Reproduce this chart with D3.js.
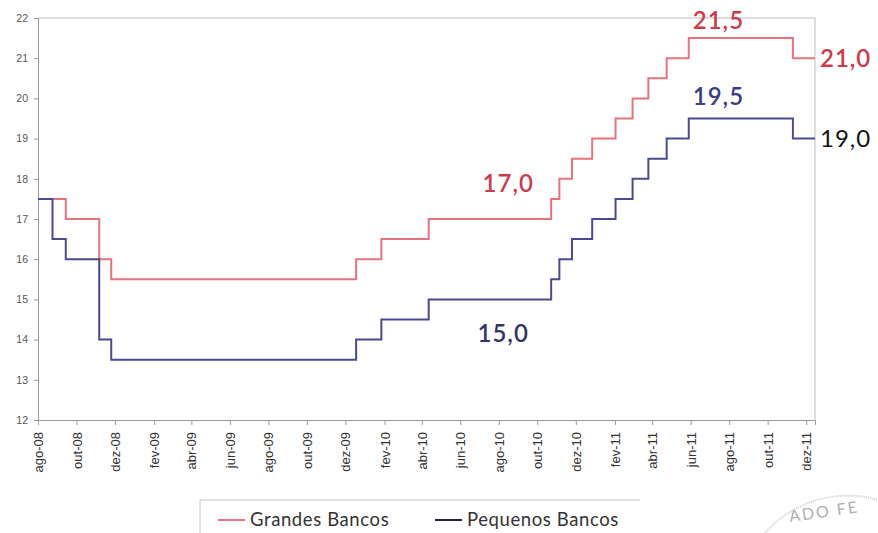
<!DOCTYPE html>
<html>
<head>
<meta charset="utf-8">
<script src="https://cdn.jsdelivr.net/npm/d3@7"></script>
<style>
  body { margin: 0; background: #fff; }
  svg { display: block; font-family: Lato, "Open Sans", "Liberation Sans", sans-serif; }
</style>
</head>
<body>
<svg id="chart" width="878" height="533"></svg>
<script>
// ---- Data ----
const changeDates = ["2008-08-01","2008-08-24","2008-09-14","2008-11-06","2008-11-25","2009-12-18","2010-01-27","2010-04-12",
  "2010-10-23","2010-11-05","2010-11-25","2010-12-27","2011-02-02","2011-03-01","2011-03-26","2011-04-24","2011-05-29","2011-11-10","2011-12-15"];
const grandesBancos  = [17.5,17.5,17.0,16.0,15.5,16.0,16.5,17.0,17.5,18.0,18.5,19.0,19.5,20.0,20.5,21.0,21.5,21.0,21.0];
const pequenosBancos = [17.5,16.5,16.0,14.0,13.5,14.0,14.5,15.0,15.5,16.0,16.5,17.0,17.5,18.0,18.5,19.0,19.5,19.0,19.0];
const monthNames = ["jan","fev","mar","abr","mai","jun","jul","ago","set","out","nov","dez"];
const tickDates = ["2008-08-01","2008-10-01","2008-12-01","2009-02-01","2009-04-01","2009-06-01","2009-08-01","2009-10-01",
  "2009-12-01","2010-02-01","2010-04-01","2010-06-01","2010-08-01","2010-10-01","2010-12-01","2011-02-01","2011-04-01",
  "2011-06-01","2011-08-01","2011-10-01","2011-12-01"];
const yTicks = [12,13,14,15,16,17,18,19,20,21,22];
const annotations = [
  {text:"17,0", date:"2010-08-16", value:17.0, dy:-35, color:"#cf3a4c"},
  {text:"21,5", date:"2011-07-15", value:21.5, dy:-18, color:"#cf3a4c"},
  {text:"21,0", date:"2011-12-15", value:21.0, dy:0,   color:"#cf3a4c", right:true},
  {text:"19,5", date:"2011-07-15", value:19.5, dy:-22, color:"#3c3c86"},
  {text:"19,0", date:"2011-12-15", value:19.0, dy:0,   color:"#111111", right:true},
  {text:"15,0", date:"2010-08-08", value:15.0, dy:34,  color:"#33336a"}
];
const seriesNames = ["Grandes Bancos","Pequenos Bancos"];

// ---- Layout ----
const parse = d3.timeParse("%Y-%m-%d");
const svg = d3.select("#chart");
const x = d3.scaleTime().domain([parse("2008-08-01"), parse("2011-12-15")]).range([38, 815]);
const y = d3.scaleLinear().domain([12, 22]).range([420, 18]);

// frame
svg.append("line").attr("x1",38).attr("x2",815).attr("y1",18).attr("y2",18).attr("stroke","#bdbdbd").attr("stroke-width",1);
svg.append("line").attr("x1",815).attr("x2",815).attr("y1",18).attr("y2",420).attr("stroke","#bdbdbd").attr("stroke-width",1);

// y axis
const yAxis = svg.append("g").attr("transform","translate(38,0)")
  .call(d3.axisLeft(y).tickValues(yTicks).tickSize(4).tickPadding(6).tickFormat(d3.format("d")));
yAxis.select(".domain").attr("stroke","#9a9a9a");
yAxis.selectAll(".tick line").attr("stroke","#9a9a9a");
yAxis.selectAll("text").attr("fill","#555").style("font-size","10.5px");

// x axis
const xAxis = svg.append("g").attr("transform","translate(0,420)")
  .call(d3.axisBottom(x).tickValues(tickDates.map(parse)).tickSize(5)
    .tickFormat(d => monthNames[d.getMonth()] + "-" + String(d.getFullYear()).slice(2)));
xAxis.select(".domain").attr("stroke","#9a9a9a");
xAxis.selectAll(".tick line").attr("stroke","#9a9a9a");
xAxis.selectAll("text")
  .attr("transform","rotate(-90)")
  .attr("text-anchor","end")
  .attr("x",-12).attr("y",0).attr("dy","0.35em")
  .attr("fill","#333").style("font-size","13px");

// lines
const line = d3.line().curve(d3.curveStepAfter).x((d,i) => x(parse(changeDates[i]))).y(d => y(d));
svg.append("path").datum(grandesBancos).attr("d",line).attr("fill","none").attr("stroke","#e8737e").attr("stroke-width",2);
svg.append("path").datum(pequenosBancos).attr("d",line).attr("fill","none").attr("stroke","#4a4a94").attr("stroke-width",2);

// annotations
annotations.forEach(a => {
  svg.append("text")
    .attr("x", a.right ? x(parse(a.date)) + 5 : x(parse(a.date)))
    .attr("y", y(a.value) + a.dy)
    .attr("dy","0.35em")
    .attr("text-anchor", a.right ? "start" : "middle")
    .attr("fill", a.color)
    .style("font-size","24px")
    .style("font-weight", a.color === "#111111" ? "400" : "600")
    .style("letter-spacing","1px")
    .text(a.text);
});

// legend
const lg = svg.append("g");
lg.append("line").attr("x1",200).attr("x2",640).attr("y1",500).attr("y2",500).attr("stroke","#c8c8c8");
lg.append("line").attr("x1",200).attr("x2",200).attr("y1",500).attr("y2",533).attr("stroke","#c8c8c8");
const legendColors = ["#e8737e","#222244"];
const legendX = [218, 435];
seriesNames.forEach((n,i) => {
  lg.append("line").attr("x1",legendX[i]).attr("x2",legendX[i]+27).attr("y1",520).attr("y2",520)
    .attr("stroke",legendColors[i]).attr("stroke-width",2);
  lg.append("text").attr("x",legendX[i]+32).attr("y",520).attr("dy","0.35em")
    .attr("fill","#333").style("font-size","18.5px").style("letter-spacing","0.6px").text(n);
});

// stamp fragment
svg.append("path").attr("d","M765,533 A110,110 0 0 1 878,500").attr("fill","none").attr("stroke","#d0d0d0").attr("stroke-width",2).attr("stroke-dasharray","1,1");
svg.append("text").attr("x",790).attr("y",522).attr("transform","rotate(-8,790,522)")
  .attr("fill","#b0b0b0").style("font-size","16px").style("letter-spacing","2px").text("ADO FE");
</script>
</body>
</html>
